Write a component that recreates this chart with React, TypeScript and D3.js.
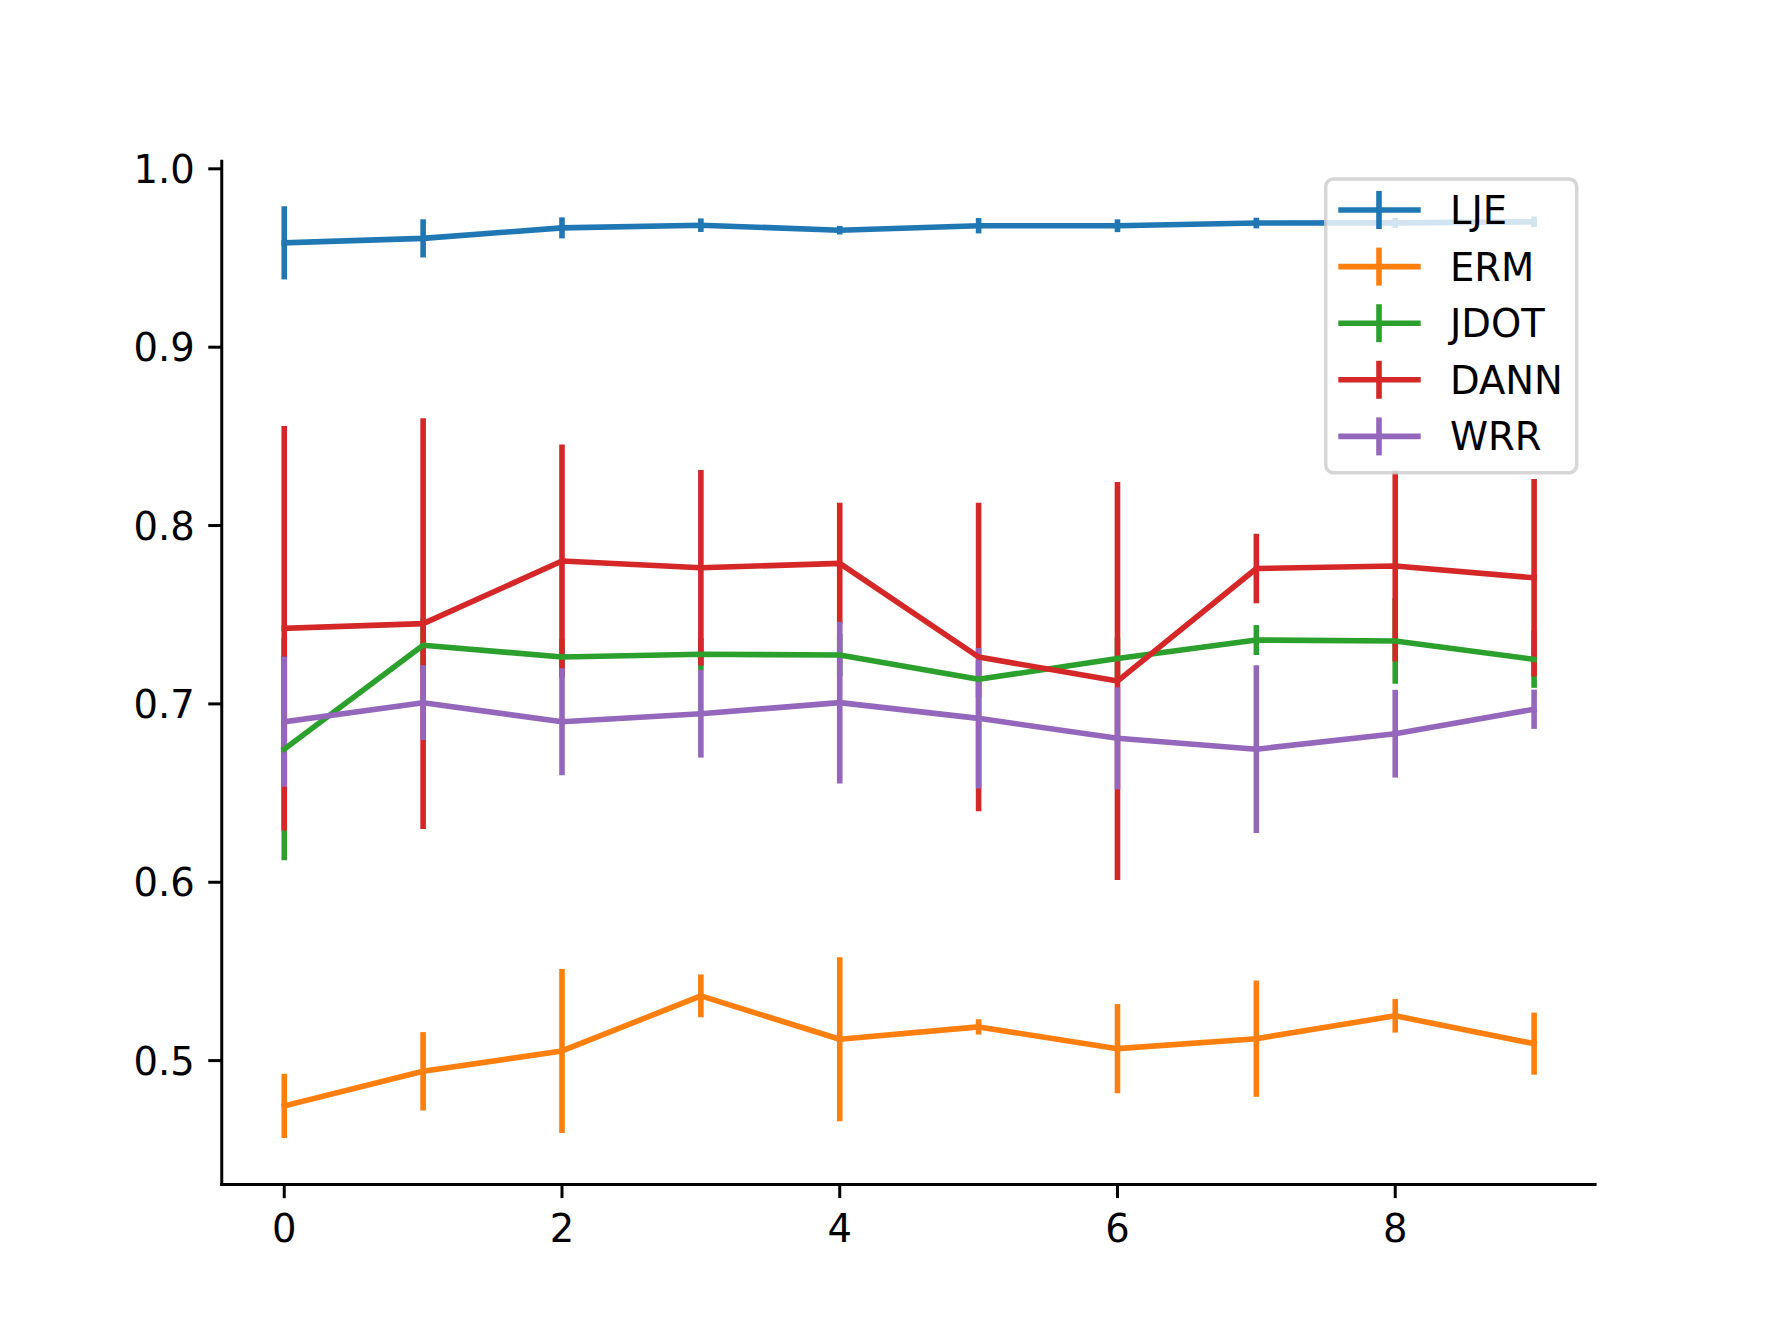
import React from "react";
import * as d3 from "d3";

const xs = [0, 1, 2, 3, 4, 5, 6, 7, 8, 9];
const seriesNames = ["LJE", "ERM", "JDOT", "DANN", "WRR"];
const colors = ["#1f77b4", "#ff7f0e", "#2ca02c", "#d62728", "#9467bd"];

const ljeMean = [0.9585, 0.961, 0.9669, 0.9684, 0.9656, 0.9681, 0.9681, 0.9696, 0.9697, 0.9703];
const ljeErr = [0.0205, 0.0107, 0.0059, 0.0038, 0.0024, 0.0043, 0.0036, 0.003, 0.0028, 0.003];

const ermMean = [0.4746, 0.4940, 0.5054, 0.5363, 0.5120, 0.5189, 0.5067, 0.5123, 0.5251, 0.5095];
const ermErr = [0.018, 0.022, 0.046, 0.012, 0.046, 0.0043, 0.025, 0.0326, 0.0094, 0.0174];

const jdotMean = [0.6746, 0.7329, 0.7263, 0.7278, 0.7274, 0.7138, 0.7254, 0.7358, 0.7353, 0.7250];
const jdotErr = [0.0623, 0.015, 0.01, 0.009, 0.012, 0.01, 0.012, 0.0084, 0.024, 0.016];

const dannMean = [0.7424, 0.745, 0.7801, 0.7763, 0.7788, 0.7263, 0.7128, 0.7759, 0.7773, 0.7707];
const dannErr = [0.1134, 0.1152, 0.0654, 0.0548, 0.034, 0.0865, 0.1116, 0.0195, 0.0535, 0.0554];

const wrrMean = [0.69, 0.7007, 0.69, 0.6945, 0.7007, 0.6919, 0.6807, 0.6746, 0.6833, 0.697];
const wrrErr = [0.0364, 0.021, 0.030, 0.0246, 0.0454, 0.0394, 0.0286, 0.047, 0.0246, 0.011];

const xTicks = [0, 2, 4, 6, 8];
const yTicks = [0.5, 0.6, 0.7, 0.8, 0.9, 1.0];

const means = [ljeMean, ermMean, jdotMean, dannMean, wrrMean];
const errs = [ljeErr, ermErr, jdotErr, dannErr, wrrErr];

const W = 1774;
const H = 1331;
const L = 221.75;
const R = 1596.6;
const T = 159.7;
const B = 1184.6;
const FONT = "DejaVu Sans, sans-serif";
const FS = 38.5;

export default function App() {
  let lo = Infinity;
  let hi = -Infinity;
  means.forEach((m, s) =>
    m.forEach((v, i) => {
      lo = Math.min(lo, v - errs[s][i]);
      hi = Math.max(hi, v + errs[s][i]);
    })
  );
  const pad = (hi - lo) * 0.05;
  const xPad = (d3.max(xs)! - d3.min(xs)!) * 0.05;
  const x = d3.scaleLinear().domain([d3.min(xs)! - xPad, d3.max(xs)! + xPad]).range([L, R]);
  const y = d3.scaleLinear().domain([lo - pad, hi + pad]).range([B, T]);
  const line = d3
    .line<number>()
    .x((_, i) => x(xs[i]))
    .y((d) => y(d));

  const lw = 5.6;
  const tickLen = 13.5;
  const tickW = 3;

  // legend geometry
  const lgX = 1325.7;
  const lgY = 179;
  const lgW = 251;
  const lgH = 293.7;
  const rowY0 = 210;
  const rowDy = 56.6;

  return (
    <svg
      width={W}
      height={H}
      style={{ position: "absolute", left: 0, top: 0, background: "#fff" }}
      fontFamily={FONT}
    >
      <rect x={0} y={0} width={W} height={H} fill="#fff" />
      {/* error bars */}
      {means.map((m, s) => (
        <g key={"eb" + s} stroke={colors[s]} strokeWidth={lw} strokeLinecap="butt">
          {m.map((v, i) => (
            <line
              key={i}
              x1={x(xs[i])}
              x2={x(xs[i])}
              y1={y(v - errs[s][i])}
              y2={y(v + errs[s][i])}
            />
          ))}
        </g>
      ))}
      {/* data lines */}
      {means.map((m, s) => (
        <path
          key={"ln" + s}
          d={line(m) || ""}
          fill="none"
          stroke={colors[s]}
          strokeWidth={lw}
          strokeLinejoin="round"
          strokeLinecap="square"
        />
      ))}
      {/* spines */}
      <line x1={L} x2={L} y1={T} y2={B + tickW / 2} stroke="#000" strokeWidth={tickW} />
      <line x1={L - tickW / 2} x2={R} y1={B} y2={B} stroke="#000" strokeWidth={tickW} />
      {/* x ticks */}
      {xTicks.map((t) => (
        <g key={"xt" + t}>
          <line x1={x(t)} x2={x(t)} y1={B} y2={B + tickLen} stroke="#000" strokeWidth={tickW} />
          <text x={x(t)} y={1242} fontSize={FS} textAnchor="middle" fill="#000">
            {t}
          </text>
        </g>
      ))}
      {/* y ticks */}
      {yTicks.map((t) => (
        <g key={"yt" + t}>
          <line x1={L - tickLen} x2={L} y1={y(t)} y2={y(t)} stroke="#000" strokeWidth={tickW} />
          <text x={L - 27} y={y(t) + 14} fontSize={FS} textAnchor="end" fill="#000">
            {t.toFixed(1)}
          </text>
        </g>
      ))}
      {/* legend */}
      <rect
        x={lgX}
        y={lgY}
        width={lgW}
        height={lgH}
        rx={7.7}
        ry={7.7}
        fill="#fff"
        fillOpacity={0.8}
        stroke="#cccccc"
        strokeOpacity={0.8}
        strokeWidth={3.5}
      />
      {seriesNames.map((n, s) => {
        const cy = rowY0 + s * rowDy;
        return (
          <g key={"lg" + s}>
            <line x1={1338.3} x2={1420.7} y1={cy} y2={cy} stroke={colors[s]} strokeWidth={lw} />
            <line x1={1379} x2={1379} y1={cy - 19} y2={cy + 19} stroke={colors[s]} strokeWidth={lw} />
            <text x={1450} y={cy + 14} fontSize={FS} fill="#000">
              {n}
            </text>
          </g>
        );
      })}
    </svg>
  );
}
